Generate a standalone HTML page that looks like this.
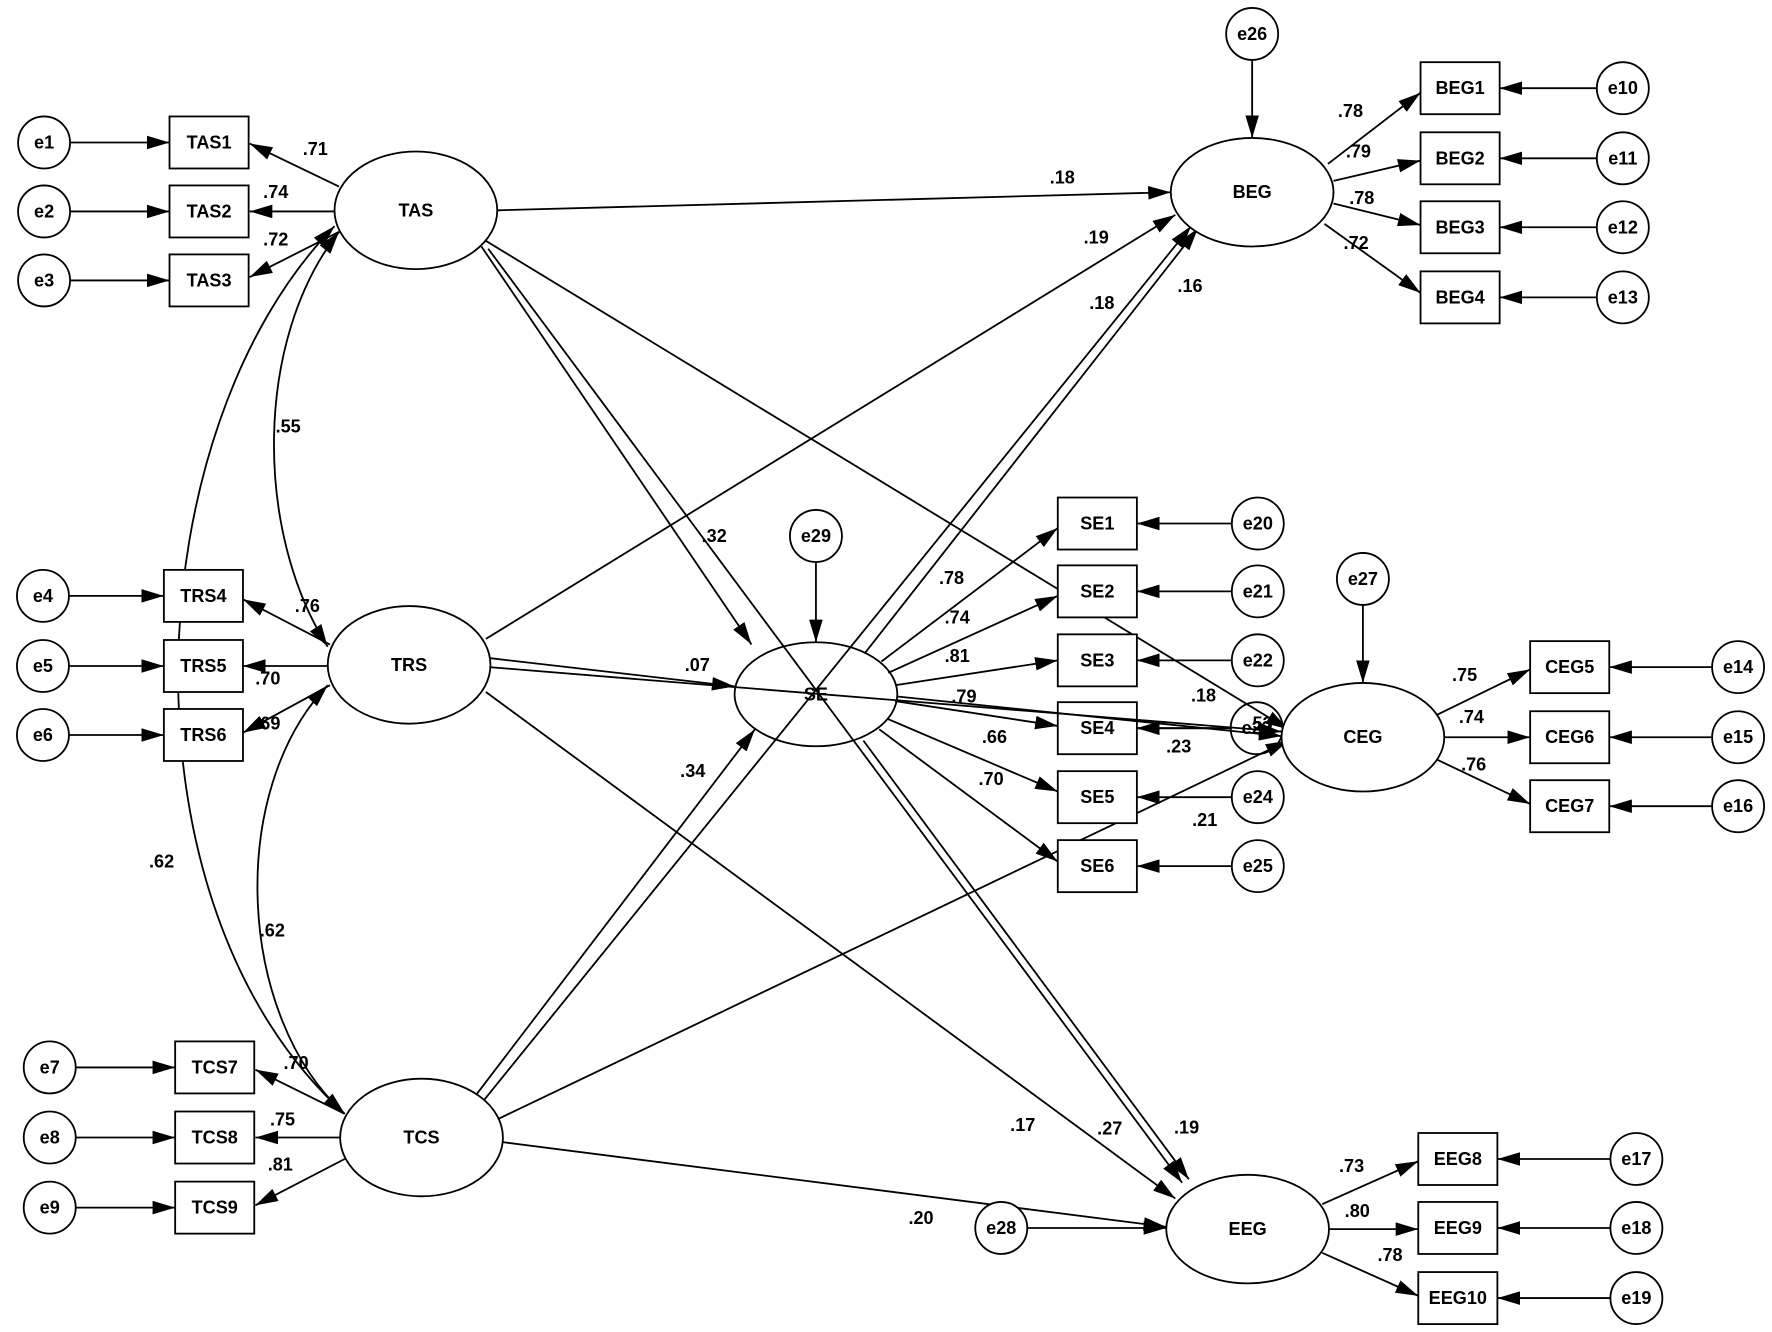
<!DOCTYPE html>
<html><head><meta charset="utf-8"><style>
html,body{margin:0;padding:0;background:#fff;}
svg{display:block;}
text{font-family:"Liberation Sans",Arial,sans-serif;font-weight:bold;font-size:16px;fill:#000;text-anchor:middle;dominant-baseline:central;}
.l{stroke:#000;stroke-width:1.6;fill:none;}
.s{stroke:#000;stroke-width:1.6;fill:#fff;}
</style></head><body>
<svg width="1772" height="1332" viewBox="0 0 1568 1178" preserveAspectRatio="none" xmlns="http://www.w3.org/2000/svg">
<defs>
<marker id="a" markerUnits="userSpaceOnUse" markerWidth="22" markerHeight="12" refX="20" refY="6" orient="auto"><path d="M0,0 L20,6 L0,12 z" fill="#000"/></marker>
<marker id="b" markerUnits="userSpaceOnUse" markerWidth="22" markerHeight="12" refX="0" refY="6" orient="auto"><path d="M20,0 L0,6 L20,12 z" fill="#000"/></marker>
</defs>
<g class="l" marker-end="url(#a)">
<!-- left error arrows -->
<line x1="62" y1="126" x2="150" y2="126"/><line x1="62" y1="187" x2="150" y2="187"/><line x1="62" y1="248" x2="150" y2="248"/>
<line x1="61" y1="527" x2="145" y2="527"/><line x1="61" y1="589" x2="145" y2="589"/><line x1="61" y1="650" x2="145" y2="650"/>
<line x1="67" y1="944" x2="155" y2="944"/><line x1="67" y1="1006" x2="155" y2="1006"/><line x1="67" y1="1068" x2="155" y2="1068"/>
<!-- right error arrows -->
<line x1="1413" y1="78" x2="1327" y2="78"/><line x1="1413" y1="140" x2="1327" y2="140"/><line x1="1413" y1="201" x2="1327" y2="201"/><line x1="1413" y1="263" x2="1327" y2="263"/>
<line x1="1090" y1="463" x2="1006" y2="463"/><line x1="1090" y1="523" x2="1006" y2="523"/><line x1="1090" y1="584" x2="1006" y2="584"/><line x1="1090" y1="644" x2="1006" y2="644"/><line x1="1090" y1="705" x2="1006" y2="705"/><line x1="1090" y1="766" x2="1006" y2="766"/>
<line x1="1515" y1="590" x2="1424" y2="590"/><line x1="1515" y1="652" x2="1424" y2="652"/><line x1="1515" y1="713" x2="1424" y2="713"/>
<line x1="1425" y1="1025" x2="1325" y2="1025"/><line x1="1425" y1="1086" x2="1325" y2="1086"/><line x1="1425" y1="1148" x2="1325" y2="1148"/>
<line x1="1108" y1="53" x2="1108" y2="122"/><line x1="722" y1="497" x2="722" y2="568"/><line x1="1206" y1="535" x2="1206" y2="604"/><line x1="909" y1="1086" x2="1032" y2="1086"/>
<!-- loadings -->
<line x1="300" y1="165" x2="221" y2="127"/><line x1="296" y1="187" x2="221" y2="187"/><line x1="300" y1="205" x2="221" y2="245"/>
<line x1="292" y1="570" x2="215" y2="530"/><line x1="290" y1="589" x2="215" y2="589"/><line x1="292" y1="606" x2="215" y2="648"/>
<line x1="305" y1="985" x2="226" y2="946"/><line x1="302" y1="1006" x2="226" y2="1006"/><line x1="305" y1="1025" x2="226" y2="1066"/>
<line x1="780" y1="585" x2="936" y2="467"/><line x1="786" y1="595" x2="936" y2="527"/><line x1="792" y1="606" x2="936" y2="584"/><line x1="792" y1="620" x2="936" y2="642"/><line x1="786" y1="636" x2="936" y2="700"/><line x1="778" y1="645" x2="936" y2="762"/>
<line x1="1175" y1="145" x2="1257" y2="82"/><line x1="1180" y1="160" x2="1257" y2="142"/><line x1="1180" y1="180" x2="1257" y2="199"/><line x1="1172" y1="198" x2="1257" y2="259"/>
<line x1="1272" y1="632" x2="1354" y2="592"/><line x1="1278" y1="652" x2="1354" y2="652"/><line x1="1272" y1="672" x2="1354" y2="711"/>
<line x1="1170" y1="1065" x2="1255" y2="1027"/><line x1="1176" y1="1087" x2="1255" y2="1087"/><line x1="1170" y1="1108" x2="1255" y2="1146"/>
<!-- structural -->
<line x1="440" y1="186" x2="1036" y2="170"/>
<line x1="425" y1="210" x2="1140" y2="645"/>
<line x1="426" y1="218" x2="665" y2="570"/>
<line x1="432" y1="220" x2="1046" y2="1046"/>
<line x1="764" y1="655" x2="1052" y2="1043"/>
<line x1="430" y1="565" x2="1040" y2="190"/>
<line x1="433" y1="582" x2="650" y2="607"/>
<line x1="433" y1="590" x2="1134" y2="647"/>
<line x1="794" y1="616" x2="1134" y2="651"/>
<line x1="430" y1="612" x2="1040" y2="1060"/>
<line x1="420" y1="970" x2="668" y2="645"/>
<line x1="425" y1="977" x2="1054" y2="200"/>
<line x1="765" y1="578" x2="1060" y2="202"/>
<line x1="440" y1="990" x2="1140" y2="655"/>
<line x1="444" y1="1010" x2="1032" y2="1085"/>
<line x1="1090" y1="644" x2="1006" y2="644"/>
</g>
<g class="l" marker-start="url(#b)" marker-end="url(#a)">
<path d="M300,205 C225,300 225,470 290,572"/>
<path d="M296,200 C120,380 100,800 305,985"/>
<path d="M290,606 C200,700 210,900 305,985"/>
</g>
<!-- boxes -->
<g class="s">
<rect x="150" y="103" width="70" height="46"/><rect x="150" y="164" width="70" height="46"/><rect x="150" y="225" width="70" height="46"/>
<rect x="145" y="504" width="70" height="46"/><rect x="145" y="566" width="70" height="46"/><rect x="145" y="627" width="70" height="46"/>
<rect x="155" y="921" width="70" height="46"/><rect x="155" y="983" width="70" height="46"/><rect x="155" y="1045" width="70" height="46"/>
<rect x="936" y="440" width="70" height="46"/><rect x="936" y="500" width="70" height="46"/><rect x="936" y="561" width="70" height="46"/><rect x="936" y="621" width="70" height="46" fill="none"/><rect x="936" y="682" width="70" height="46"/><rect x="936" y="743" width="70" height="46"/>
<rect x="1257" y="55" width="70" height="46"/><rect x="1257" y="117" width="70" height="46"/><rect x="1257" y="178" width="70" height="46"/><rect x="1257" y="240" width="70" height="46"/>
<rect x="1354" y="567" width="70" height="46"/><rect x="1354" y="629" width="70" height="46"/><rect x="1354" y="690" width="70" height="46"/>
<rect x="1255" y="1002" width="70" height="46"/><rect x="1255" y="1063" width="70" height="46"/><rect x="1255" y="1125" width="70" height="46"/>
<!-- error circles -->
<circle cx="39" cy="126" r="23"/><circle cx="39" cy="187" r="23"/><circle cx="39" cy="248" r="23"/>
<circle cx="38" cy="527" r="23"/><circle cx="38" cy="589" r="23"/><circle cx="38" cy="650" r="23"/>
<circle cx="44" cy="944" r="23"/><circle cx="44" cy="1006" r="23"/><circle cx="44" cy="1068" r="23"/>
<circle cx="1436" cy="78" r="23"/><circle cx="1436" cy="140" r="23"/><circle cx="1436" cy="201" r="23"/><circle cx="1436" cy="263" r="23"/>
<circle cx="1113" cy="463" r="23"/><circle cx="1113" cy="523" r="23"/><circle cx="1113" cy="584" r="23"/><circle cx="1113" cy="705" r="23"/><circle cx="1113" cy="766" r="23"/>
<circle cx="1538" cy="590" r="23"/><circle cx="1538" cy="652" r="23"/><circle cx="1538" cy="713" r="23"/>
<circle cx="1448" cy="1025" r="23"/><circle cx="1448" cy="1086" r="23"/><circle cx="1448" cy="1148" r="23"/>
<circle cx="1108" cy="30" r="23"/><circle cx="722" cy="474" r="23"/><circle cx="1206" cy="512" r="23"/><circle cx="886" cy="1086" r="23"/>
<circle cx="1112" cy="644" r="23" fill="none"/>
<!-- latents -->
<ellipse cx="368" cy="186" rx="72" ry="52"/><ellipse cx="362" cy="588" rx="72" ry="52"/><ellipse cx="373" cy="1006" rx="72" ry="52"/>
<ellipse cx="722" cy="614" rx="72" ry="46" fill="none"/>
<ellipse cx="1108" cy="170" rx="72" ry="48"/><ellipse cx="1206" cy="652" rx="72" ry="48"/><ellipse cx="1104" cy="1087" rx="72" ry="48"/>
</g>
<g>
<text x="185" y="126">TAS1</text><text x="185" y="187">TAS2</text><text x="185" y="248">TAS3</text>
<text x="180" y="527">TRS4</text><text x="180" y="589">TRS5</text><text x="180" y="650">TRS6</text>
<text x="190" y="944">TCS7</text><text x="190" y="1006">TCS8</text><text x="190" y="1068">TCS9</text>
<text x="971" y="463">SE1</text><text x="971" y="523">SE2</text><text x="971" y="584">SE3</text><text x="971" y="644">SE4</text><text x="971" y="705">SE5</text><text x="971" y="766">SE6</text>
<text x="1292" y="78">BEG1</text><text x="1292" y="140">BEG2</text><text x="1292" y="201">BEG3</text><text x="1292" y="263">BEG4</text>
<text x="1389" y="590">CEG5</text><text x="1389" y="652">CEG6</text><text x="1389" y="713">CEG7</text>
<text x="1290" y="1025">EEG8</text><text x="1290" y="1086">EEG9</text><text x="1290" y="1148">EEG10</text>
<text x="39" y="126">e1</text><text x="39" y="187">e2</text><text x="39" y="248">e3</text>
<text x="38" y="527">e4</text><text x="38" y="589">e5</text><text x="38" y="650">e6</text>
<text x="44" y="944">e7</text><text x="44" y="1006">e8</text><text x="44" y="1068">e9</text>
<text x="1436" y="78">e10</text><text x="1436" y="140">e11</text><text x="1436" y="201">e12</text><text x="1436" y="263">e13</text>
<text x="1113" y="463">e20</text><text x="1113" y="523">e21</text><text x="1113" y="584">e22</text><text x="1112" y="644">e23</text><text x="1113" y="705">e24</text><text x="1113" y="766">e25</text>
<text x="1538" y="590">e14</text><text x="1538" y="652">e15</text><text x="1538" y="713">e16</text>
<text x="1448" y="1025">e17</text><text x="1448" y="1086">e18</text><text x="1448" y="1148">e19</text>
<text x="1108" y="30">e26</text><text x="722" y="474">e29</text><text x="1206" y="512">e27</text><text x="886" y="1086">e28</text>
<text x="368" y="186">TAS</text><text x="362" y="588">TRS</text><text x="373" y="1006">TCS</text><text x="722" y="614">SE</text>
<text x="1108" y="170">BEG</text><text x="1206" y="652">CEG</text><text x="1104" y="1087">EEG</text>
<text x="279" y="132">.71</text><text x="244" y="170">.74</text><text x="244" y="212">.72</text><text x="255" y="377">.55</text>
<text x="272" y="536">.76</text><text x="237" y="600">.70</text><text x="237" y="640">.69</text><text x="143" y="762">.62</text><text x="241" y="823">.62</text>
<text x="262" y="940">.70</text><text x="250" y="990">.75</text><text x="248" y="1030">.81</text>
<text x="940" y="157">.18</text><text x="970" y="210">.19</text><text x="975" y="268">.18</text><text x="1053" y="253">.16</text>
<text x="632" y="474">.32</text><text x="617" y="588">.07</text><text x="613" y="682">.34</text>
<text x="842" y="511">.78</text><text x="847" y="546">.74</text><text x="847" y="580">.81</text><text x="853" y="616">.79</text><text x="880" y="652">.66</text><text x="877" y="689">.70</text>
<text x="1065" y="615">.18</text><text x="1043" y="660">.23</text><text x="1066" y="725">.21</text><text x="1115" y="640">.53</text>
<text x="905" y="995">.17</text><text x="982" y="998">.27</text><text x="1050" y="997">.19</text><text x="815" y="1077">.20</text>
<text x="1195" y="98">.78</text><text x="1202" y="134">.79</text><text x="1205" y="175">.78</text><text x="1200" y="215">.72</text>
<text x="1296" y="597">.75</text><text x="1302" y="634">.74</text><text x="1304" y="676">.76</text>
<text x="1196" y="1031">.73</text><text x="1201" y="1071">.80</text><text x="1230" y="1110">.78</text>
</g>
</svg>
</body></html>
